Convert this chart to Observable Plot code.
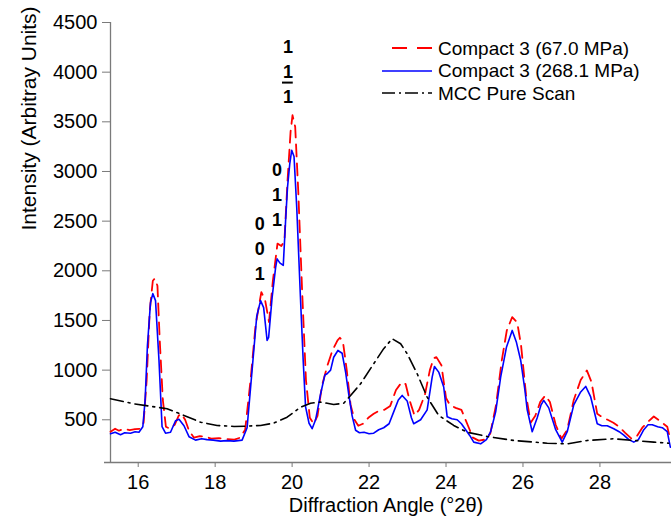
<!DOCTYPE html>
<html><head><meta charset="utf-8">
<script src="https://cdn.jsdelivr.net/npm/d3@7"></script>
<script src="https://cdn.jsdelivr.net/npm/@observablehq/plot@0.6"></script>
<style>
body{margin:0;background:#fff;font-family:"Liberation Sans",Arial,sans-serif;}
#wrap{position:relative;width:671px;height:519px;overflow:hidden;}
#legend{position:absolute;left:382px;top:37px;font-size:19px;color:#000;line-height:1;}
.row{display:flex;align-items:center;height:22.5px;white-space:nowrap;}
.row svg{flex:none;margin-right:6px;}
</style></head><body>
<div id="wrap"><div id="chart"></div><div id="legend"></div></div>
<script>
// Diffraction angle (°2θ), intensity (arbitrary units)
const compact67 = [[15.28,380],[15.40,410],[15.50,390],[15.62,410],[15.78,395],[15.92,405],[16.05,410],[16.14,470],[16.22,900],[16.30,1600],[16.38,1900],[16.43,1921],[16.50,1850],[16.56,1300],[16.64,700],[16.72,430],[16.82,410],[16.95,450],[17.05,540],[17.12,561],[17.22,500],[17.32,390],[17.45,320],[17.60,335],[17.75,330],[17.90,310],[18.10,315],[18.30,305],[18.50,300],[18.65,320],[18.78,400],[18.92,900],[19.05,1450],[19.20,1786],[19.30,1700],[19.40,1484],[19.50,1900],[19.62,2274],[19.72,2250],[19.80,2300],[19.88,2900],[19.96,3400],[20.01,3566],[20.08,3450],[20.16,2800],[20.26,1800],[20.36,900],[20.46,520],[20.56,460],[20.66,540],[20.78,850],[20.92,1050],[21.05,1200],[21.18,1300],[21.24,1326],[21.32,1290],[21.42,1000],[21.52,650],[21.62,500],[21.72,440],[21.84,460],[21.98,520],[22.12,560],[22.25,590],[22.40,600],[22.55,640],[22.70,800],[22.85,879],[22.95,860],[23.05,700],[23.18,544],[23.30,600],[23.45,750],[23.58,1000],[23.68,1120],[23.75,1131],[23.88,1050],[24.00,720],[24.10,650],[24.25,620],[24.40,600],[24.55,460],[24.70,320],[24.85,290],[25.00,300],[25.15,360],[25.30,650],[25.45,1100],[25.58,1400],[25.72,1534],[25.85,1480],[25.95,1250],[26.08,750],[26.20,470],[26.32,540],[26.45,680],[26.58,745],[26.70,680],[26.85,450],[27.00,310],[27.15,400],[27.32,700],[27.50,900],[27.66,997],[27.78,880],[27.93,560],[28.05,530],[28.20,500],[28.35,470],[28.50,430],[28.65,370],[28.82,310],[28.95,330],[29.10,420],[29.25,480],[29.40,533],[29.52,500],[29.65,460],[29.75,430],[29.83,300]];

const compact268 = [[15.28,359],[15.40,375],[15.54,350],[15.65,370],[15.80,365],[15.92,380],[16.02,375],[16.12,430],[16.18,700],[16.24,1250],[16.32,1680],[16.38,1770],[16.45,1700],[16.54,1100],[16.62,430],[16.71,365],[16.84,375],[16.97,490],[17.06,505],[17.19,440],[17.32,330],[17.49,295],[17.65,310],[17.79,300],[17.95,295],[18.14,285],[18.30,290],[18.49,285],[18.70,295],[18.83,420],[18.96,1000],[19.08,1540],[19.18,1700],[19.26,1630],[19.35,1300],[19.39,1330],[19.48,1730],[19.57,2030],[19.61,2120],[19.68,2080],[19.77,2055],[19.83,2500],[19.88,2840],[19.94,3080],[19.99,3214],[20.05,3150],[20.12,2640],[20.22,1700],[20.29,1080],[20.35,630],[20.44,465],[20.52,410],[20.61,500],[20.74,760],[20.85,950],[20.91,964],[21.00,1000],[21.08,1130],[21.19,1198],[21.30,1170],[21.39,980],[21.47,760],[21.56,540],[21.65,395],[21.75,370],[21.87,375],[22.00,360],[22.12,365],[22.25,400],[22.38,420],[22.52,460],[22.64,580],[22.76,700],[22.86,745],[22.99,690],[23.10,520],[23.16,460],[23.25,480],[23.34,500],[23.51,600],[23.64,930],[23.70,1037],[23.81,980],[23.94,830],[24.03,530],[24.15,510],[24.29,500],[24.40,460],[24.51,400],[24.62,340],[24.72,275],[24.90,258],[25.05,300],[25.16,380],[25.29,580],[25.42,930],[25.57,1230],[25.72,1400],[25.83,1280],[25.94,1100],[26.05,800],[26.11,600],[26.24,380],[26.37,520],[26.47,650],[26.54,695],[26.67,620],[26.85,400],[27.02,275],[27.15,380],[27.32,650],[27.50,780],[27.63,836],[27.76,730],[27.93,460],[28.05,440],[28.19,440],[28.36,410],[28.50,380],[28.62,345],[28.75,300],[28.88,275],[29.00,300],[29.14,400],[29.25,450],[29.36,450],[29.50,430],[29.62,420],[29.75,380],[29.83,224]];

const mccPure = [[15.28,712],[15.89,661],[16.75,611],[17.19,544],[17.62,476],[18.05,443],[18.49,433],[18.83,436],[19.18,443],[19.52,466],[19.87,526],[20.22,627],[20.48,667],[20.74,678],[21.08,654],[21.34,667],[21.52,745],[21.78,863],[22.12,1064],[22.38,1216],[22.60,1316],[22.82,1266],[22.99,1165],[23.25,964],[23.51,728],[23.81,544],[24.20,443],[24.55,375],[25.07,332],[25.76,292],[26.63,264],[27.15,258],[27.67,292],[28.36,309],[28.88,292],[29.40,275],[29.79,264]];

const seriesNames = ["Compact 3 (67.0 MPa)", "Compact 3 (268.1 MPa)", "MCC Pure Scan"];
const xTicks = [16, 18, 20, 22, 24, 26, 28];
const yTicks = [500, 1000, 1500, 2000, 2500, 3000, 3500, 4000, 4500];
const peakLabels = [
  {angle: 19.16, intensity: 2239, text: "0\n0\n1"},
  {angle: 19.61, intensity: 2780, text: "0\n1\n1"},
  {angle: 19.89, intensity: 4020, text: "1\n1\n1"}
];
// overbar of the (1 1 -1) reflection
const peakBars = [{from: 19.75, to: 20.03, intensity: 3895}];
const xTitle = "Diffraction Angle (°2θ)";
const yTitle = "Intensity (Arbitray Units)";

const toRows = (arr) => arr.map(([angle, intensity]) => ({angle, intensity}));
const xDomain = [15.28, 29.86];
const yDomain = [70, 4500];

const chart = Plot.plot({
  width: 671, height: 519,
  marginLeft: 110, marginRight: 0, marginTop: 22, marginBottom: 57,
  style: {fontFamily: "'Liberation Sans', Arial, sans-serif", fontSize: "20px", color: "#000", background: "#fff", overflow: "visible"},
  x: {domain: xDomain},
  y: {domain: yDomain},
  marks: [
    Plot.axisX(xTicks, {tickSize: 5, tickPadding: 7, label: null, stroke: "#7a7a7a", fill: "#000", fontSize: 20, tickFormat: d => String(d)}),
    Plot.axisY(yTicks, {tickSize: 8, tickPadding: 5, label: null, stroke: "#7a7a7a", fill: "#000", fontSize: 20, tickFormat: d => String(d)}),
    Plot.ruleX([xDomain[0]], {stroke: "#7a7a7a", strokeWidth: 1.3}),
    Plot.ruleY([yDomain[0]], {stroke: "#7a7a7a", strokeWidth: 1.3, insetLeft: -6}),
    Plot.line(toRows(compact67), {x: "angle", y: "intensity", stroke: "#ff0000", strokeWidth: 1.8, strokeDasharray: "12,7"}),
    Plot.line(toRows(compact268), {x: "angle", y: "intensity", stroke: "#0000ff", strokeWidth: 1.6}),
    Plot.line(toRows(mccPure), {x: "angle", y: "intensity", stroke: "#000", strokeWidth: 1.6, strokeDasharray: "13,5,2,5"}),
    Plot.text(peakLabels, {x: "angle", y: "intensity", text: "text", fontSize: 18, fontWeight: "bold", lineHeight: 1.39, fill: "#000"}),
    Plot.ruleY(peakBars, {x1: "from", x2: "to", y: "intensity", stroke: "#000", strokeWidth: 2}),
    Plot.text([xTitle], {frameAnchor: "bottom", dy: 49, dx: -5, fontSize: 20, fill: "#000"}),
    Plot.text([yTitle], {frameAnchor: "left", rotate: -90, dx: -81, dy: -12, fontSize: 21, fill: "#000"})
  ]
});
document.getElementById("chart").appendChild(chart);

// legend
const legendStyles = [
  {stroke: "#ff0000", dash: "15,10", x1: 10, width: 1.8},
  {stroke: "#0000ff", dash: null, x1: 0, width: 1.6},
  {stroke: "#000", dash: "13,4,2,4", x1: 0, width: 1.6}
];
const legend = d3.select("#legend");
seriesNames.forEach((name, i) => {
  const s = legendStyles[i];
  const row = legend.append("div").attr("class", "row");
  const svg = row.append("svg").attr("width", 50).attr("height", 14);
  const ln = svg.append("line").attr("x1", s.x1).attr("x2", 50).attr("y1", 7).attr("y2", 7)
    .attr("stroke", s.stroke).attr("stroke-width", s.width);
  if (s.dash) ln.attr("stroke-dasharray", s.dash);
  row.append("span").text(name);
});
</script>
</body></html>
